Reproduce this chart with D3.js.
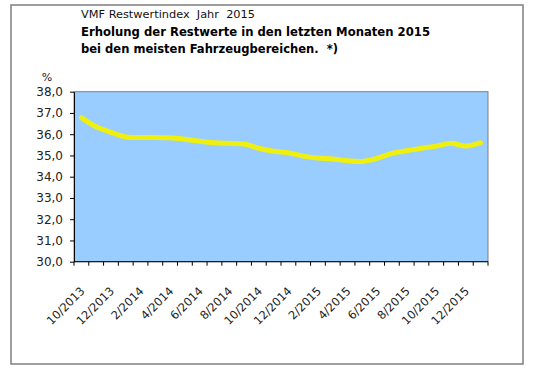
<!DOCTYPE html>
<html>
<head>
<meta charset="utf-8">
<script src="https://cdn.jsdelivr.net/npm/d3@7"></script>
<style>
  body { margin: 0; background: #fff; }
  svg { display: block; font-family: "DejaVu Sans", Verdana, sans-serif; }
  .keep-spaces { white-space: pre; }
</style>
</head>
<body>
<div id="chart"></div>
<script>
// Months on the x axis (one band per month)
const MONTHS = [
  '10/2013', '11/2013', '12/2013',
  '1/2014', '2/2014', '3/2014', '4/2014', '5/2014', '6/2014',
  '7/2014', '8/2014', '9/2014', '10/2014', '11/2014', '12/2014',
  '1/2015', '2/2015', '3/2015', '4/2015', '5/2015', '6/2015',
  '7/2015', '8/2015', '9/2015', '10/2015', '11/2015', '12/2015',
  '1/2016'
];
// Restwertindex in %
const VALUES = [
  36.78, 36.35, 36.09,
  35.87, 35.85, 35.85, 35.83, 35.76, 35.67,
  35.60, 35.57, 35.54, 35.34, 35.20, 35.13,
  34.97, 34.88, 34.83, 34.75, 34.72, 34.86,
  35.10, 35.22, 35.34, 35.44, 35.57, 35.44,
  35.60
];
// Labelled months (every second one)
const X_LABELS = ['10/2013', '12/2013', '2/2014', '4/2014', '6/2014', '8/2014', '10/2014',
  '12/2014', '2/2015', '4/2015', '6/2015', '8/2015', '10/2015', '12/2015'];
const Y_TICKS = [30, 31, 32, 33, 34, 35, 36, 37, 38];

const TITLE_1 = 'VMF Restwertindex  Jahr  2015';
const TITLE_2 = 'Erholung der Restwerte in den letzten Monaten 2015';
const TITLE_3 = 'bei den meisten Fahrzeugbereichen.  *)';

const W = 533, H = 372;
const plot = { left: 74, right: 488, top: 91.7, bottom: 261.7 };

const svg = d3.select('#chart').append('svg')
  .attr('width', W)
  .attr('height', H);

// outer frame
svg.append('rect')
  .attr('x', 11).attr('y', 5)
  .attr('width', 512).attr('height', 359)
  .attr('fill', '#fff')
  .attr('stroke', '#7f7f7f')
  .attr('stroke-width', 1.5);

// titles
svg.append('text')
  .attr('class', 'keep-spaces')
  .attr('x', 81).attr('y', 18)
  .attr('font-size', '10.5px')
  .attr('textLength', 174)
  .attr('lengthAdjust', 'spacingAndGlyphs')
  .attr('fill', '#111')
  .text(TITLE_1);

svg.append('text')
  .attr('x', 81).attr('y', 36)
  .attr('font-size', '12.5px')
  .attr('font-weight', 'bold')
  .attr('textLength', 349)
  .attr('lengthAdjust', 'spacingAndGlyphs')
  .text(TITLE_2);

svg.append('text')
  .attr('class', 'keep-spaces')
  .attr('x', 81).attr('y', 53)
  .attr('font-size', '12.5px')
  .attr('font-weight', 'bold')
  .attr('textLength', 257)
  .attr('lengthAdjust', 'spacingAndGlyphs')
  .text(TITLE_3);

// scales
const x = d3.scaleBand()
  .domain(MONTHS)
  .range([plot.left, plot.right]);

const y = d3.scaleLinear()
  .domain([30, 38])
  .range([plot.bottom, plot.top]);

// plot area
svg.append('rect')
  .attr('x', plot.left).attr('y', plot.top)
  .attr('width', plot.right - plot.left)
  .attr('height', plot.bottom - plot.top)
  .attr('fill', '#99ccff')
  .attr('stroke', '#808080')
  .attr('stroke-width', 1);

// line
const line = d3.line()
  .x((d, i) => x(MONTHS[i]) + x.bandwidth() / 2)
  .y(d => y(d))
  .curve(d3.curveCatmullRom.alpha(0.5));

svg.append('path')
  .datum(VALUES)
  .attr('d', line)
  .attr('fill', 'none')
  .attr('stroke', '#f0f010')
  .attr('stroke-width', 5)
  .attr('stroke-linecap', 'round')
  .attr('stroke-linejoin', 'round');

// y axis
const yAxis = svg.append('g')
  .attr('transform', `translate(${plot.left},0)`)
  .call(d3.axisLeft(y)
    .tickValues(Y_TICKS)
    .tickSize(4)
    .tickSizeOuter(0)
    .tickPadding(7)
    .tickFormat(d => d3.format('.1f')(d).replace('.', ',')));
yAxis.select('.domain').attr('stroke', '#000');
yAxis.selectAll('.tick line').attr('stroke', '#000');
yAxis.selectAll('.tick text')
  .attr('font-size', '12px')
  .attr('font-family', '"DejaVu Sans", Verdana, sans-serif')
  .attr('fill', '#222');

svg.append('text')
  .attr('x', 47).attr('y', 81)
  .attr('text-anchor', 'middle')
  .attr('font-size', '11px')
  .attr('fill', '#222')
  .text('%');

// x axis: line, tick marks at band boundaries, rotated labels
const xAxis = svg.append('g');
xAxis.append('line')
  .attr('x1', plot.left).attr('x2', plot.right)
  .attr('y1', plot.bottom).attr('y2', plot.bottom)
  .attr('stroke', '#000');

const boundaries = MONTHS.map(m => x(m)).concat([x.range()[1]]);
xAxis.selectAll('line.tick')
  .data(boundaries)
  .enter()
  .append('line')
  .attr('class', 'tick')
  .attr('x1', d => d).attr('x2', d => d)
  .attr('y1', plot.bottom).attr('y2', plot.bottom + 4)
  .attr('stroke', '#000');

xAxis.selectAll('text')
  .data(X_LABELS)
  .enter()
  .append('text')
  .attr('transform', d => `translate(${x(d) + x.bandwidth() / 2 + 4},${plot.bottom + 30}) rotate(-45)`)
  .attr('text-anchor', 'end')
  .attr('font-size', '11.5px')
  .attr('fill', '#222')
  .text(d => d);
</script>
</body>
</html>
